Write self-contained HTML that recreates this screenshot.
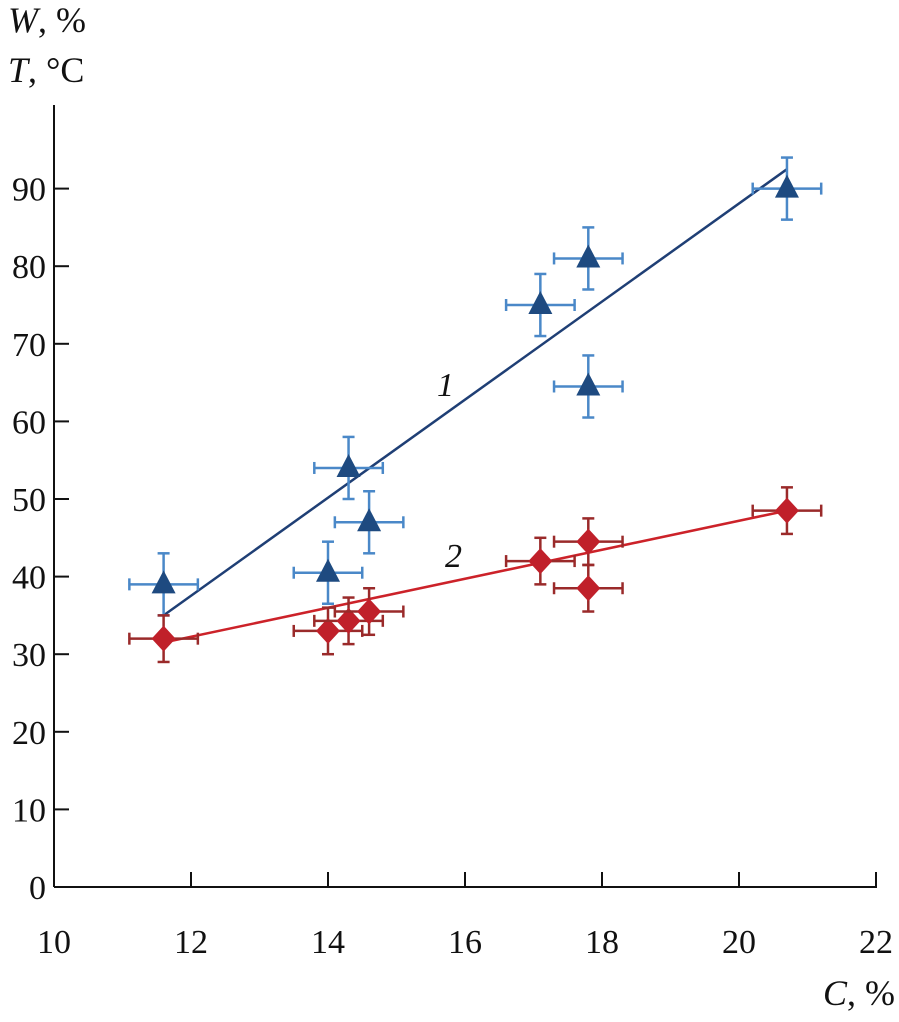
<!DOCTYPE html>
<html><head><meta charset="utf-8"><style>
body{margin:0;background:#fff}
svg text{font-family:"Liberation Serif",serif;font-size:34px;fill:#111}
</style></head><body>
<svg width="899" height="1017" id="c">
<text x="8" y="32" style="font-size:36px"><tspan font-style="italic">W</tspan>, %</text>
<text x="8" y="82" style="font-size:36px"><tspan font-style="italic">T</tspan>, °C</text>
<text x="895" y="1005" text-anchor="end" style="font-size:36px"><tspan font-style="italic">C</tspan>, %</text>
<g id="axes"></g><g id="marks"></g>
</svg>
<script>
const xTicks=[10,12,14,16,18,20,22];
const yTicks=[0,10,20,30,40,50,60,70,80,90];
const cats=[11.6,14.0,14.3,14.6,17.1,17.8,17.8,20.7];
const s1=[39,40.5,54,47,75,81,64.5,90];
const s2=[32,33,34.3,35.5,42,44.5,38.5,48.5];
const fit1=[35,92.5];
const fit2=[31.5,48.5];
const fitX=[11.6,20.7];
const xErr=0.5, yErr1=4, yErr2=3;
const X=v=>54+(v-10)*68.5, Y=v=>887-v*7.76;
const ns="http://www.w3.org/2000/svg";
const ax=document.getElementById('axes'), mk=document.getElementById('marks');
function el(p,t,a){const e=document.createElementNS(ns,t);for(const k in a)e.setAttribute(k,a[k]);p.appendChild(e);return e;}
let e=el(ax,'line',{x1:54,y1:887,x2:877,y2:887,stroke:'#111','stroke-width':2});


e=el(ax,'line',{x1:54,y1:887,x2:54,y2:105,stroke:'#111','stroke-width':2});


xTicks.forEach(v=>{el(ax,'line',{x1:X(v),y1:887,x2:X(v),y2:872,stroke:'#111','stroke-width':2});
 const t=el(ax,'text',{x:X(v),y:953,'text-anchor':'middle'});t.textContent=v;
 
 });
yTicks.forEach(v=>{el(ax,'line',{x1:54,y1:Y(v),x2:69,y2:Y(v),stroke:'#111','stroke-width':2});
 const t=el(ax,'text',{x:46,y:Y(v)+12,'text-anchor':'end'});t.textContent=v;
 
 });
function series(vals,fit,ec,lc,fc,ye,shape,name){
 const l=el(mk,'line',{x1:X(fitX[0]),y1:Y(fit[0]),x2:X(fitX[1]),y2:Y(fit[1]),stroke:lc,'stroke-width':2.5});
 
 
 vals.forEach((v,i)=>{const cx=X(cats[i]),cy=Y(v);
  const g=el(mk,'g',{});
  
  
  const s={stroke:ec,'stroke-width':2.5};
  el(g,'line',Object.assign({x1:X(cats[i]-xErr),y1:cy,x2:X(cats[i]+xErr),y2:cy},s));
  el(g,'line',Object.assign({x1:cx,y1:Y(v-ye),x2:cx,y2:Y(v+ye)},s));
  [X(cats[i]-xErr),X(cats[i]+xErr)].forEach(x=>el(g,'line',Object.assign({x1:x,y1:cy-6,x2:x,y2:cy+6},s)));
  [Y(v-ye),Y(v+ye)].forEach(y=>el(g,'line',Object.assign({x1:cx-6,y1:y,x2:cx+6,y2:y},s)));
  if(shape==='tri')el(g,'polygon',{points:`${cx},${cy-14} ${cx-12},${cy+9} ${cx+12},${cy+9}`,fill:fc});
  else el(g,'polygon',{points:`${cx},${cy-13} ${cx+12},${cy} ${cx},${cy+13} ${cx-12},${cy}`,fill:fc});
 });
}
series(s1,fit1,'#4a88c8','#1f3f75','#1e4a80',yErr1,'tri','series-1');
series(s2,fit2,'#9a2a2a','#cc2229','#c0202a',yErr2,'dia','series-2');
let t=el(mk,'text',{x:437,y:396,'font-style':'italic'});t.textContent='1';


t=el(mk,'text',{x:445,y:567,'font-style':'italic'});t.textContent='2';


</script>
</body></html>
